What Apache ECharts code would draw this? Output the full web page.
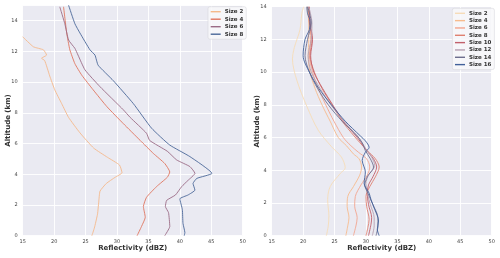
<!DOCTYPE html>
<html><head><meta charset="utf-8">
<script src="https://cdn.jsdelivr.net/npm/echarts@6/dist/echarts.min.js"></script>
<style>html,body{margin:0;padding:0;background:#fff}#l,#r{position:absolute;top:0;width:250px;height:258px}#l{left:0}#r{left:250px}</style>
</head><body><div id="l"></div><div id="r"></div>
<script>
// ---- data: [reflectivity (dBZ), altitude (km)] ----
const leftNames = ['Size 2','Size 4','Size 6','Size 8'];
const left_size2 = [[26.0,0],[26.4,0.5],[26.9,1.4],[27.1,2.2],[27.3,2.9],[28.3,3.4],[29.7,3.8],[30.8,4.1],[30.4,4.6],[28.5,5.1],[26.3,5.7],[24.1,6.7],[22.3,7.7],[21.2,8.6],[20.1,9.5],[19.3,10.4],[18.5,11.4],[18.0,11.55],[18.8,11.76],[18.3,12.1],[16.7,12.3],[15.0,12.95]];
const left_size4 = [[33.2,0],[33.9,0.6],[34.5,1.2],[34.2,1.9],[34.7,2.5],[36.3,3.2],[38.0,3.8],[38.4,4.15],[37.6,4.7],[35.8,5.35],[33.7,6.2],[31.0,7.3],[28.4,8.4],[26.2,9.5],[24.4,10.45],[23.3,11.2],[22.5,12.1],[22.3,12.5],[22.0,13.2],[21.5,14.9]];
const left_size6 = [[37.6,0],[38.4,0.6],[38.2,1.5],[37.7,1.9],[37.9,2.3],[39.3,2.65],[40.3,3.2],[41.3,3.6],[42.4,4.06],[41.6,4.5],[39.5,4.93],[38.0,5.5],[35.2,6.2],[34.7,6.67],[32.1,7.7],[31.0,8.2],[27.3,9.7],[24.9,10.8],[23.8,11.76],[23.3,12.2],[22.3,12.74],[21.7,13.8],[20.9,14.9]];
const left_size8 = [[40.7,0],[40.8,0.2],[40.5,0.8],[40.4,1.7],[40.0,2.4],[41.3,2.65],[42.4,2.97],[42.1,3.4],[42.7,3.73],[45.1,4.06],[41.6,5.15],[38.4,5.9],[35.5,7.0],[32.6,8.6],[29.4,10.1],[27.0,11.1],[26.5,11.76],[25.7,12.1],[24.1,13.2],[23.3,13.8],[22.3,15.0]];

const rightNames = ['Size 2','Size 4','Size 6','Size 8','Size 10','Size 12','Size 14','Size 16'];
const right_size2 = [[23.7,0],[24.0,0.6],[24.1,1.2],[23.9,2.2],[24.3,3.0],[25.9,3.8],[26.7,4.15],[26.1,4.8],[24.5,5.45],[22.4,6.45],[20.6,7.9],[19.0,9.5],[18.3,10.8],[18.6,11.5],[19.5,12.6],[19.8,13.6],[20.1,14.0]];
const right_size4 = [[26.8,0],[27.1,0.6],[27.3,1.1],[27.0,1.8],[27.1,2.4],[28.0,3.0],[29.0,3.7],[29.3,4.2],[28.9,4.7],[28.0,5.0],[26.9,5.5],[25.6,6.0],[24.3,7.0],[23.0,8.0],[21.9,9.0],[21.1,10.0],[20.8,11.0],[20.9,12.0],[20.9,13.0],[20.6,14.0]];
const right_size6 = [[28.0,0],[28.4,0.6],[28.6,1.1],[28.2,1.8],[28.3,2.4],[29.2,3.1],[30.2,3.7],[30.6,4.2],[30.1,4.7],[28.8,5.1],[27.6,5.5],[26.4,6.0],[24.9,7.0],[23.6,8.0],[22.4,9.0],[21.5,10.0],[21.0,11.0],[21.2,12.0],[21.1,13.0],[20.9,14.0]];
const right_size8 = [[30.0,0],[30.3,0.5],[30.5,1.0],[30.1,1.8],[30.0,2.4],[30.6,3.0],[31.5,3.6],[32.1,4.2],[31.5,4.7],[30.2,5.2],[29.0,5.7],[28.1,6.1],[26.2,7.0],[24.6,8.0],[23.0,9.0],[21.8,10.0],[21.1,11.0],[21.4,12.0],[21.0,13.0],[20.8,14.0]];
const right_size10 = [[30.4,0],[30.8,0.7],[30.9,1.1],[30.4,1.9],[30.2,2.6],[30.4,3.1],[31.1,3.6],[31.7,4.2],[31.2,4.7],[30.1,5.2],[29.2,5.7],[28.4,6.1],[26.4,7.0],[24.7,8.0],[23.1,9.0],[21.7,10.0],[21.2,11.0],[21.5,12.0],[21.1,13.0],[21.0,14.0]];
const right_size12 = [[31.0,0],[31.3,0.6],[31.3,1.1],[30.7,1.9],[30.2,2.6],[30.0,3.2],[30.4,3.7],[31.4,4.3],[30.9,4.8],[30.0,5.3],[29.2,5.8],[28.6,6.1],[26.5,7.0],[24.4,8.0],[22.7,9.0],[21.3,10.0],[20.8,11.0],[21.3,12.0],[21.4,13.0],[20.9,14.0]];
const right_size14 = [[31.6,0],[31.9,0.6],[31.9,1.1],[31.1,1.9],[30.3,2.6],[29.8,3.1],[30.2,3.6],[31.2,4.2],[30.7,4.7],[29.9,5.2],[29.5,5.6],[28.6,6.1],[26.2,7.0],[24.0,8.0],[22.3,9.0],[21.0,10.0],[20.3,11.0],[20.7,12.0],[21.3,13.0],[20.7,14.0]];
const right_size16 = [[32.1,0],[31.8,0.4],[32.0,0.9],[31.4,1.6],[30.8,2.2],[30.5,2.6],[29.7,3.2],[29.9,3.9],[29.4,4.6],[29.9,5.1],[30.5,5.4],[29.9,5.8],[29.1,6.1],[26.7,7.0],[24.5,8.0],[22.5,9.0],[21.0,10.0],[20.0,11.0],[20.3,12.0],[21.0,12.6],[21.1,13.1],[20.7,13.6],[20.6,14.0]];

const leftColors = ['#f5b98b','#e0755f','#9b6b86','#4b6898'];
const rightColors = ['#f6dcb8','#f7bb8d','#f3a58e','#df8070','#c1606b','#b59fb0','#6d6e8e','#41609a'];

const FONT = 'DejaVu Sans';
function build(names, datas, colors, cfg){
  return {
    animation:false,
    textStyle:{fontFamily:FONT},
    grid:{left:cfg.gl,right:cfg.gr,top:cfg.gt,bottom:22.3,show:true,backgroundColor:'#EAEAF2',borderWidth:0,containLabel:false,outerBoundsMode:'none'},
    legend:{
      data:names, orient:'vertical', left:cfg.lx, top:cfg.ly,
      icon:'rect', itemWidth:10, itemHeight:1.4, itemGap:cfg.lgap,
      padding:[2,3,2,2.7], backgroundColor:'rgba(248,248,250,0.85)',
      borderColor:'#d6d6dc', borderWidth:0.6, borderRadius:2,
      textStyle:{fontFamily:FONT,fontSize:5.5,fontWeight:'bold',color:'#333',lineHeight:6,padding:[0,0,0,-1]}
    },
    xAxis:{type:'value',min:15,max:50,interval:5,
      name:'Reflectivity (dBZ)',nameLocation:'middle',nameGap:9,nameMoveOverlap:false,
      nameTextStyle:{fontFamily:FONT,fontSize:7,fontWeight:'bold',color:'#333'},
      axisLine:{show:false},axisTick:{show:false},
      axisLabel:{fontFamily:FONT,fontSize:5,color:'#444',margin:4},
      splitLine:{lineStyle:{color:'#ffffff',width:0.9}}},
    yAxis:{type:'value',min:0,max:cfg.ymax,interval:2,
      name:'Altitude (km)',nameLocation:'middle',nameGap:cfg.ynGap,nameMoveOverlap:false,
      nameTextStyle:{fontFamily:FONT,fontSize:7,fontWeight:'bold',color:'#333'},
      axisLine:{show:false},axisTick:{show:false},
      axisLabel:{fontFamily:FONT,fontSize:5,color:'#444',margin:5,showMaxLabel:cfg.ymax===14},
      splitLine:{lineStyle:{color:'#ffffff',width:0.9}}},
    series: names.map((n,i)=>({
      name:n, type:'line', data:datas[i], showSymbol:false, symbol:'none',
      smooth:cfg.smooth, color:colors[i], lineStyle:{width:0.9,color:colors[i]}, clip:true
    }))
  };
}
const cl = echarts.init(document.getElementById('l'),null,{renderer:'canvas'});
cl.setOption(build(leftNames,[left_size2,left_size4,left_size6,left_size8],leftColors,
  {gl:22.7,gr:7.3,gt:5.3,ymax:15,lx:208,ly:6.7,lgap:1.5,smooth:0.15,ynGap:11}));
const cr = echarts.init(document.getElementById('r'),null,{renderer:'canvas'});
cr.setOption(build(rightNames,[right_size2,right_size4,right_size6,right_size8,right_size10,right_size12,right_size14,right_size16],rightColors,
  {gl:21.7,gr:8.3,gt:6.7,ymax:14,lx:202.3,ly:8.3,lgap:1.33,smooth:0.3,ynGap:11}));
</script></body></html>
